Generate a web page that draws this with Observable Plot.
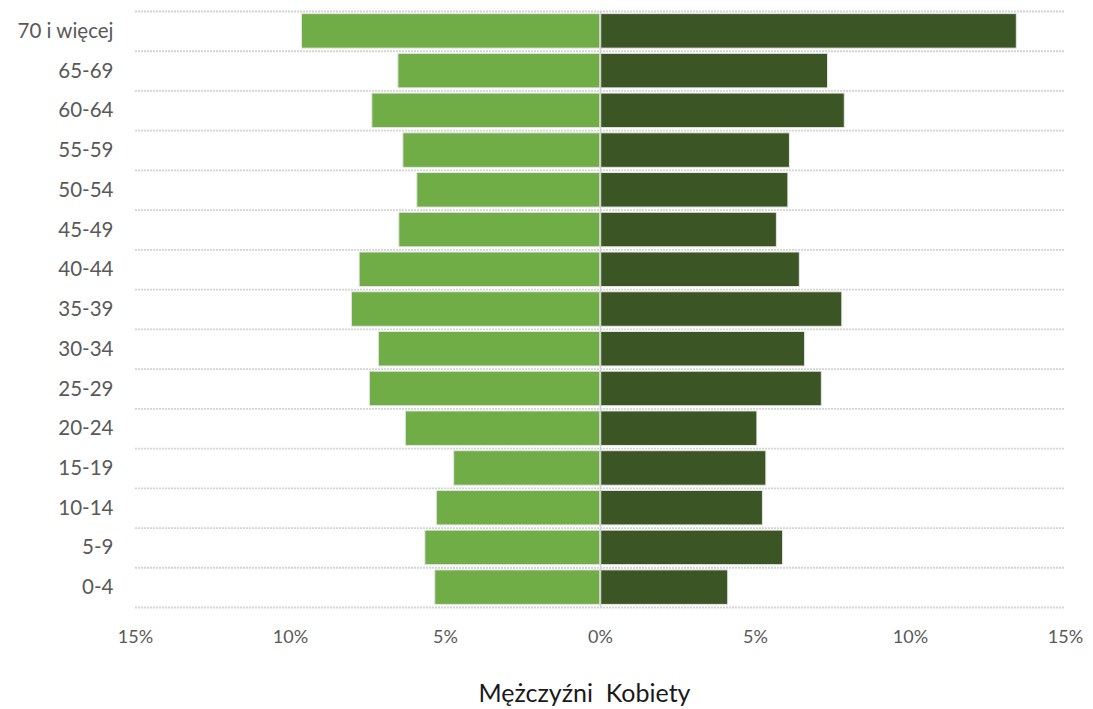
<!DOCTYPE html>
<html>
<head>
<meta charset="utf-8">
<script src="https://cdn.jsdelivr.net/npm/d3@7"></script>
<script src="https://cdn.jsdelivr.net/npm/@observablehq/plot@0.6"></script>
<style>
  html, body { margin: 0; padding: 0; background: #fff; }
  #wrap { position: relative; width: 1093px; height: 709px; }
  #chart svg { display: block; }
  #legend { position: absolute; left: 38px; width: 1093px; top: 678px; height: 28px; line-height: 28px;
    text-align: center; font-family: Lato, "Open Sans", sans-serif; font-size: 25px; color: #1a1a1a;
    white-space: pre; }
</style>
</head>
<body>
<div id="wrap">
  <div id="chart"></div>
  <div id="legend">Mężczyźni  Kobiety</div>
</div>
<script>
const ageGroups = ["0-4","5-9","10-14","15-19","20-24","25-29","30-34","35-39","40-44","45-49","50-54","55-59","60-64","65-69","70 i więcej"];
const male   = [5.33, 5.65, 5.28, 4.72, 6.28, 7.44, 7.15, 8.02, 7.77, 6.49, 5.91, 6.36, 7.36, 6.52, 9.63];
const female = [4.12, 5.89, 5.24, 5.35, 5.06, 7.14, 6.60, 7.80, 6.43, 5.69, 6.06, 6.11, 7.88, 7.34, 13.43];
const xTicks = [-15, -10, -5, 0, 5, 10, 15];

const rows = [];
ageGroups.forEach((g, i) => {
  rows.push({group: g, sex: "Mężczyźni", value: -male[i]});
  rows.push({group: g, sex: "Kobiety", value: female[i]});
});

const W = 1093, H = 660, mT = 11, mB = 53;
const domainY = ageGroups.slice().reverse();
const step = (H - mT - mB) / domainY.length;
const grid = {x1: -15, x2: 15, stroke: "#d4d4d4", strokeWidth: 1.8, strokeDasharray: "2,1"};

const chart = Plot.plot({
  width: W,
  height: H,
  marginLeft: 135,
  marginRight: 28,
  marginTop: mT,
  marginBottom: mB,
  style: {fontFamily: "Lato, 'Open Sans', sans-serif", background: "#fff"},
  x: {domain: [-15, 15]},
  y: {domain: domainY, padding: 0, round: false},
  color: {domain: ["Mężczyźni", "Kobiety"], range: ["#70ad47", "#3b5624"]},
  marks: [
    Plot.ruleY(domainY, {y: d => d, dy: -step / 2, ...grid}),
    Plot.ruleY([domainY[domainY.length - 1]], {y: d => d, dy: step / 2, ...grid}),
    Plot.barX(rows, {x: "value", y: "group", fill: "sex", insetTop: 2.6, insetBottom: 2.6, stroke: "#e6e6e6", strokeWidth: 1}),
    Plot.ruleX([0], {stroke: "#d0d0d0", strokeWidth: 1.5}),
    Plot.axisY({tickSize: 0, tickPadding: 22, fontSize: 20.5, fill: "#595959", label: null}),
    Plot.axisX({ticks: xTicks, tickFormat: d => Math.abs(d) + "%", tickSize: 0, tickPadding: 23, fontSize: 18, fill: "#595959", label: null})
  ]
});
document.getElementById("chart").appendChild(chart);
</script>
</body>
</html>
